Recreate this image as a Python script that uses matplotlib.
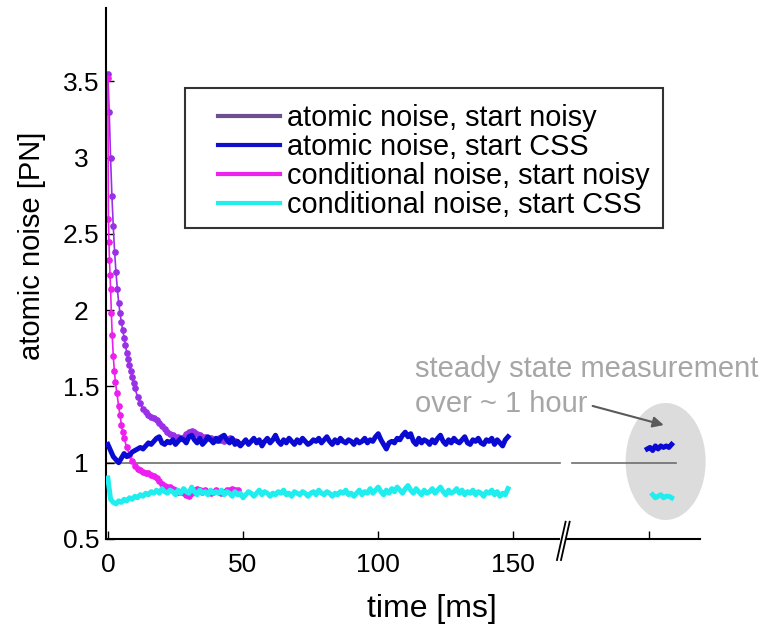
import matplotlib.pyplot as plt
from matplotlib.lines import Line2D
from matplotlib.patches import Ellipse, Rectangle

plt.rcParams['font.family'] = ['Liberation Sans', 'DejaVu Sans']

# atomic noise, start noisy (dotted decay)
t_noisy = [0, 0.5, 1.0, 1.5, 2.0, 2.5, 3.0, 3.5, 4.0, 4.5, 5.0, 5.5, 6.0, 6.5, 7.0, 7.5,
           8.0, 8.5, 9.0, 9.5, 10, 11, 12, 13, 14, 15, 16, 17, 18, 19, 20, 21, 22, 23,
           24, 25, 26, 27, 28, 29, 30, 31, 32, 33, 34, 35, 36, 37, 38, 39, 40, 41, 42,
           43, 44, 45, 46, 47, 48]
atom_noisy = [3.55, 3.30, 3.00, 2.75, 2.55, 2.38, 2.25, 2.14, 2.05, 1.98, 1.92, 1.87,
              1.82, 1.77, 1.72, 1.68, 1.64, 1.60, 1.56, 1.52, 1.49, 1.43, 1.39, 1.35,
              1.33, 1.31, 1.30, 1.29, 1.28, 1.26, 1.24, 1.22, 1.20, 1.19, 1.18, 1.17,
              1.17, 1.16, 1.17, 1.19, 1.20, 1.21, 1.20, 1.19, 1.18, 1.17, 1.17, 1.16,
              1.16, 1.15, 1.15, 1.16, 1.15, 1.14, 1.15, 1.16, 1.15, 1.14, 1.13]

# conditional noise, start noisy
t_cond_noisy = [0, 0.2, 0.4, 0.6, 0.8, 1.0, 1.3, 1.6, 2.0, 2.4, 2.8, 3.3, 4.0, 4.5, 5.0,
                5.5, 6.0, 7, 8, 9, 10, 11, 12, 13, 14, 15, 16, 17, 18, 19, 20, 21, 22,
                23, 24, 25, 26, 27, 28, 29, 30, 31, 32, 33, 34, 35, 36, 37, 38, 39, 40,
                41, 42, 43, 44, 45, 46, 47, 48]
cond_noisy = [3.52, 2.60, 2.45, 2.33, 2.23, 2.14, 1.98, 1.84, 1.70, 1.60, 1.53, 1.46,
              1.37, 1.31, 1.25, 1.20, 1.16, 1.10, 1.05, 1.01, 0.98, 0.96, 0.95, 0.94,
              0.93, 0.93, 0.92, 0.91, 0.90, 0.88, 0.86, 0.85, 0.84, 0.84, 0.83, 0.82,
              0.81, 0.81, 0.80, 0.79, 0.78, 0.80, 0.82, 0.83, 0.82, 0.81, 0.82, 0.81,
              0.80, 0.81, 0.82, 0.81, 0.80, 0.81, 0.82, 0.82, 0.83, 0.82, 0.82]

# start CSS traces, one sample per ms (0..148)
atom_css = [1.12, 1.08, 1.04, 1.02, 1.00, 1.03, 1.06, 1.04, 1.05, 1.07, 1.08,
            1.09, 1.10, 1.09, 1.11, 1.13, 1.12, 1.14, 1.16, 1.17, 1.13,
            1.12, 1.14, 1.13, 1.15, 1.12, 1.14, 1.16, 1.15, 1.13, 1.17,
            1.18, 1.15, 1.13, 1.16, 1.12, 1.14, 1.17, 1.15, 1.13, 1.16,
            1.14, 1.17, 1.18, 1.15, 1.13, 1.16, 1.12, 1.14, 1.11, 1.13,
            1.15, 1.12, 1.14, 1.16, 1.13, 1.15, 1.11, 1.14, 1.16, 1.13,
            1.15, 1.18, 1.14, 1.12, 1.15, 1.13, 1.16, 1.14, 1.12, 1.15,
            1.13, 1.16, 1.14, 1.12, 1.13, 1.15, 1.14, 1.16, 1.13, 1.15,
            1.17, 1.14, 1.12, 1.15, 1.13, 1.16, 1.14, 1.13, 1.15, 1.14,
            1.12, 1.15, 1.13, 1.14, 1.16, 1.13, 1.15, 1.14, 1.17, 1.19,
            1.15, 1.12, 1.09, 1.13, 1.14, 1.13, 1.16, 1.15, 1.18, 1.20,
            1.17, 1.19, 1.14, 1.12, 1.16, 1.13, 1.15, 1.14, 1.12, 1.15,
            1.13, 1.16, 1.18, 1.14, 1.12, 1.15, 1.13, 1.16, 1.14, 1.13,
            1.15, 1.17, 1.13, 1.12, 1.15, 1.14, 1.16, 1.13, 1.12, 1.15,
            1.14, 1.16, 1.12, 1.15, 1.13, 1.11, 1.15, 1.17]
cond_css = [0.90, 0.76, 0.74, 0.73, 0.75, 0.74, 0.76, 0.75, 0.77, 0.76, 0.78,
            0.77, 0.79, 0.78, 0.80, 0.79, 0.81, 0.80, 0.82, 0.80, 0.83,
            0.81, 0.80, 0.82, 0.81, 0.79, 0.82, 0.80, 0.83, 0.81, 0.80,
            0.84, 0.81, 0.79, 0.82, 0.80, 0.81, 0.79, 0.82, 0.80, 0.81,
            0.80, 0.82, 0.79, 0.81, 0.80, 0.78, 0.81, 0.79, 0.80, 0.77,
            0.79, 0.81, 0.80, 0.78, 0.80, 0.82, 0.79, 0.81, 0.80, 0.78,
            0.80, 0.79, 0.81, 0.80, 0.82, 0.79, 0.80, 0.78, 0.81, 0.80,
            0.79, 0.81, 0.80, 0.78, 0.80, 0.81, 0.79, 0.82, 0.80, 0.79,
            0.81, 0.80, 0.78, 0.80, 0.79, 0.81, 0.80, 0.82, 0.79, 0.80,
            0.78, 0.80, 0.82, 0.79, 0.81, 0.80, 0.83, 0.80, 0.82, 0.84,
            0.81, 0.79, 0.82, 0.80, 0.83, 0.81, 0.84, 0.82, 0.80, 0.83,
            0.85, 0.82, 0.80, 0.83, 0.81, 0.79, 0.82, 0.80, 0.81, 0.83,
            0.80, 0.82, 0.84, 0.81, 0.79, 0.82, 0.80, 0.81, 0.83, 0.80,
            0.82, 0.79, 0.81, 0.80, 0.82, 0.79, 0.81, 0.80, 0.78, 0.81,
            0.80, 0.82, 0.79, 0.81, 0.78, 0.80, 0.79, 0.83]
t_css = list(range(len(atom_css)))

# steady state measurement (plotted right of the axis break)
t_ss_atom = [199.5, 200.5, 201.5, 202.5, 203.5, 204.5, 205.5, 206.5, 207.5, 208.5]
ss_atom = [1.09, 1.10, 1.08, 1.11, 1.09, 1.11, 1.10, 1.11, 1.10, 1.12]
t_ss_cond = [201.5, 202.5, 203.5, 204.5, 205.5, 206.5, 207.5, 208.5]
ss_cond = [0.79, 0.77, 0.78, 0.79, 0.77, 0.78, 0.78, 0.77]

labels = ['atomic noise, start noisy', 'atomic noise, start CSS',
          'conditional noise, start noisy', 'conditional noise, start CSS']
yticks = [0.5, 1, 1.5, 2, 2.5, 3, 3.5]
ytick_labels = ['0.5', '1', '1.5', '2', '2.5', '3', '3.5']
xticks = [0, 50, 100, 150, 200]
xtick_labels = ['0', '50', '100', '150', '']

c_purple = '#9a30e6'
c_blue = '#0a0ad2'
c_mag = '#ee1eee'
c_cyan = '#20eeee'

fig = plt.figure(figsize=(7.64, 6.27), dpi=100)
ax = fig.add_axes([0.1387, 0.1404, 0.7775, 0.8466])
xmin, xmax = -0.7, 219
ax.set_xlim(xmin, xmax)
ax.set_ylim(0.5, 3.98)

ax.add_patch(Ellipse((206.3, 1.008), 29.6, 0.767, facecolor='#dcdcdc',
                     edgecolor='none', zorder=0, clip_on=False))

# reference line at 1 with break gap
ax.plot([0, 167.4], [1, 1], color='#6e6e6e', lw=1.2, zorder=1)
ax.plot([171.5, 210.0], [1, 1], color='#6e6e6e', lw=1.2, zorder=1)

ax.plot(t_css, atom_css, color=c_blue, lw=3.6, zorder=3)
ax.plot(t_css, cond_css, color=c_cyan, lw=3.6, zorder=3)
ax.plot(t_noisy, atom_noisy, color=c_purple, lw=1.2, marker='o', ms=3.8,
        zorder=2)
ax.plot(t_cond_noisy, cond_noisy, color=c_mag, lw=1.2, marker='o', ms=3.8,
        zorder=2)
ax.plot(t_ss_atom, ss_atom, color=c_blue, lw=3.6, zorder=3, clip_on=False)
ax.plot(t_ss_cond, ss_cond, color=c_cyan, lw=3.6, zorder=3, clip_on=False)

# axes styling
for s in ['top', 'right', 'bottom']:
    ax.spines[s].set_visible(False)
ax.spines['left'].set_linewidth(1.5)
ax.plot([xmin, 166.8], [0.5, 0.5], color='k', lw=1.5, clip_on=False, zorder=5)
ax.plot([169.4, xmax], [0.5, 0.5], color='k', lw=1.5, clip_on=False, zorder=5)
ax.plot([166.1, 169.3], [0.362, 0.613], color='k', lw=1.3, clip_on=False, zorder=5)
ax.plot([167.6, 170.8], [0.362, 0.613], color='k', lw=1.3, clip_on=False, zorder=5)

ax.set_yticks(yticks)
ax.set_yticklabels(ytick_labels)
ax.set_xticks(xticks)
ax.set_xticklabels(xtick_labels)
ax.tick_params(axis='both', direction='in', length=6, width=1, labelsize=19)
ax.tick_params(axis='x', pad=10, bottom=True)
ax.tick_params(axis='y', pad=18)
for lab in ax.get_yticklabels():
    lab.set_ha('center')

ax.set_xlabel('time [ms]', fontsize=23)
ax.xaxis.set_label_coords(0.549, -0.132)
ax.xaxis.label.set_va('center')
ax.set_ylabel('atomic noise [PN]', fontsize=21)
ax.yaxis.set_label_coords(-0.1246, 0.552)
ax.yaxis.label.set_va('center')

# annotation
ax.text(113.7, 1.562, 'steady state measurement', color='#a6a6a6',
        fontsize=21, va='baseline', ha='left')
ax.text(113.7, 1.334, 'over ~ 1 hour', color='#a6a6a6',
        fontsize=21, va='baseline', ha='left')
ax.annotate('', xy=(205.6, 1.247), xytext=(179.3, 1.372),
            arrowprops=dict(arrowstyle='-|>', color='#5a5a5a', lw=1.5,
                            mutation_scale=16, shrinkA=0, shrinkB=0))

# legend
handles = [Line2D([], [], color='#6b4f8e', lw=3),
           Line2D([], [], color='#1010c8', lw=3),
           Line2D([], [], color='#ee22ee', lw=3),
           Line2D([], [], color='#22eeee', lw=3)]
fig.legend(handles, labels, loc='upper left', bbox_to_anchor=(218 / 764, 0.834),
           frameon=False, fontsize=20.8, borderpad=0, borderaxespad=0,
           handlelength=2.15, handletextpad=0.24, labelspacing=0.035)
fig.patches.append(Rectangle((0.2421, 0.6364), 0.6257, 0.2233, transform=fig.transFigure,
                             facecolor='none', edgecolor='#333333', lw=1.5))

fig.savefig('out.png', dpi=100)
